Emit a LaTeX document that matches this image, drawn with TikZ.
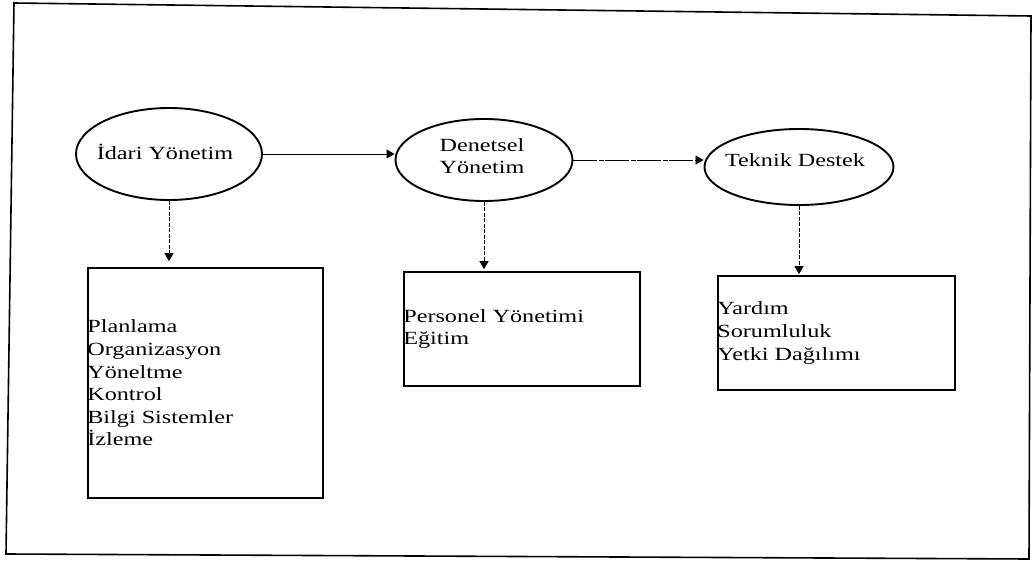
\documentclass[tikz,border=0pt]{standalone}
\usepackage{fontspec}
\setmainfont{Liberation Serif}[FakeStretch=1.3]
\usetikzlibrary{shapes.geometric,arrows.meta}
\tikzset{
  oval/.style={draw, ellipse, line width=1.9pt, inner sep=0pt},
  listbox/.style={draw, line width=1.7pt},
  lbl/.style={font=\fontsize{18.6}{22.6}\selectfont, inner sep=0pt, align=center},
  listtxt/.style={font=\fontsize{18.6}{22.6}\selectfont, inner sep=0pt, align=left, anchor=west},
  conn/.style={line width=0.8pt, -{Triangle[length=8pt,width=9pt]}},
  vconn/.style={conn, dash pattern=on 4pt off 1.5pt},
  frameline/.style={line width=1.6pt}
}
\begin{document}
\begin{tikzpicture}[x=1pt,y=-1pt]
\useasboundingbox (0,0) rectangle (1034,564);
% outer frame
\coordinate (f1) at (14,3);
\coordinate (f2) at (1031,16);
\coordinate (f3) at (1029,559);
\coordinate (f4) at (6,554);
\draw[frameline] (f1) -- (f2) -- (f3) -- (f4) -- cycle;
% ellipses
\node[oval, minimum width=186pt, minimum height=92pt] (e1) at (169,154) {};
\node[oval, minimum width=177pt, minimum height=82pt] (e2) at (484,160) {};
\node[oval, minimum width=189pt, minimum height=76pt] (e3) at (799,167) {};
\node[lbl] (t1) at (165,152) {İdari Yönetim};
\node[lbl] (t2) at (482,156) {Denetsel\\Yönetim};
\node[lbl] (t3) at (795,160) {Teknik Destek};
% boxes
\node[listbox, minimum width=235pt, minimum height=230pt] (b1) at (205.5,383) {};
\node[listbox, minimum width=236pt, minimum height=114pt] (b2) at (522,329) {};
\node[listbox, minimum width=237pt, minimum height=114pt] (b3) at (836.5,333) {};
\node[listtxt] (l1) at (b1.west) {Planlama\\Organizasyon\\Yöneltme\\Kontrol\\Bilgi Sistemler\\İzleme};
\node[listtxt] (l2) at (b2.west) {Personel Yönetimi\\Eğitim};
\node[listtxt] (l3) at (b3.west) {Yardım\\Sorumluluk\\Yetki Dağılımı};
% connectors
\draw[conn] (e1.east) -- (e1.east -| e2.west);
\draw[conn, dash pattern=on 24pt off 1.5pt on 5pt off 1.5pt] (e2.east) -- (e2.east -| e3.west);
\draw[vconn, shorten >=6pt] (e1.south) -- (e1.south |- b1.north);
\draw[vconn, shorten >=2pt] (e2.south) -- (e2.south |- b2.north);
\draw[vconn, shorten >=1pt] (e3.south) -- (e3.south |- b3.north);
\end{tikzpicture}
\end{document}
